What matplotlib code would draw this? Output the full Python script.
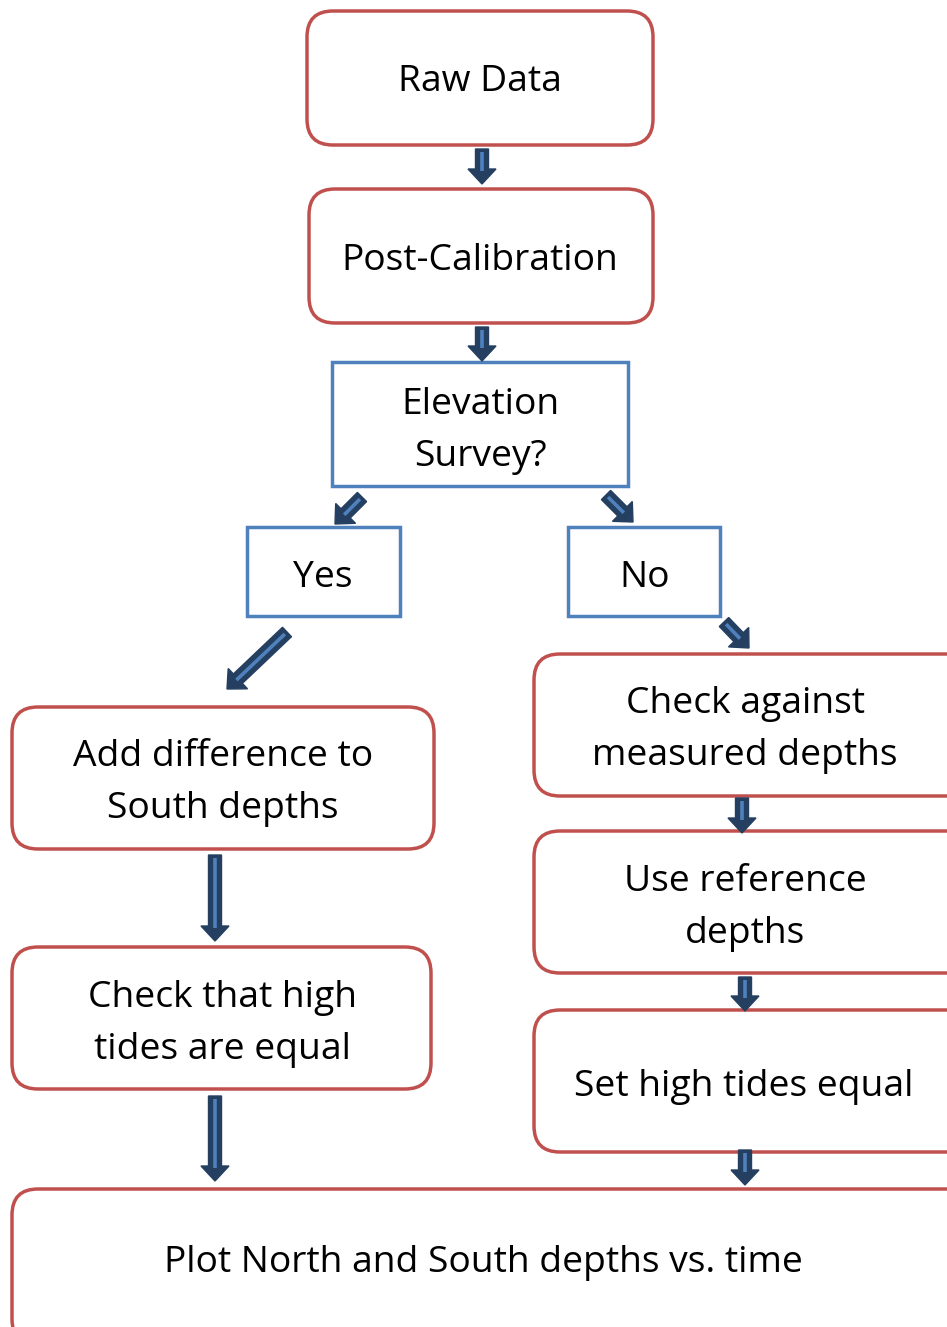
import matplotlib
matplotlib.use("Agg")
import matplotlib.pyplot as plt
from matplotlib.patches import FancyBboxPatch, Rectangle, Polygon
import numpy as np

plt.rcParams['font.family'] = ['Open Sans', 'DejaVu Sans']

# ---- content ----
labels = [
    "Raw Data",
    "Post-Calibration",
    "Elevation\nSurvey?",
    "Yes",
    "No",
    "Add difference to\nSouth depths",
    "Check that high\ntides are equal",
    "Check against\nmeasured depths",
    "Use reference\ndepths",
    "Set high tides equal",
    "Plot North and South depths vs. time",
]
kinds = ["round", "round", "rect", "rect", "rect", "round", "round", "round", "round", "round", "round"]

# ---- layout (pixel geometry) ----
boxes = [  # x0, y0, x1, y1
    (307, 11, 653, 145),
    (309, 189, 653, 323),
    (332, 362, 628, 486),
    (247, 527, 400, 616),
    (568, 527, 720, 616),
    (12, 707, 434, 849),
    (12, 947, 431, 1089),
    (534, 654, 975, 796),
    (534, 831, 975, 973),
    (534, 1010, 975, 1152),
    (12, 1189, 975, 1345),
]
text_pos = [
    (480, 82), (480, 261), (480, 431), (323, 578), (645, 578),
    (223, 783), (222, 1024), (745, 730), (745, 908), (744, 1087), (483, 1263),
]
arrows = [  # tail -> head
    ((482, 149), (482, 184)),
    ((482, 327), (482, 361)),
    ((362, 497), (335, 524)),
    ((606, 495), (633, 522)),
    ((287, 632), (227, 689)),
    ((724, 622), (749, 648)),
    ((215, 855), (215, 941)),
    ((215, 1096), (215, 1181)),
    ((742, 798), (742, 833)),
    ((745, 977), (745, 1011)),
    ((745, 1150), (745, 1185)),
]

RED = "#C0504D"
BLUE = "#4F81BD"
NAVY = "#243F60"
LIGHT = "#4F81BD"

W, H = 947, 1327
fig = plt.figure(figsize=(W / 100, H / 100), dpi=100)
ax = fig.add_axes([0, 0, 1, 1])
ax.set_xlim(0, W)
ax.set_ylim(H, 0)
ax.axis("off")

for (x0, y0, x1, y1), kind in zip(boxes, kinds):
    if kind == "round":
        p = FancyBboxPatch((x0, y0), x1 - x0, y1 - y0,
                           boxstyle="round,pad=0,rounding_size=26",
                           fc="white", ec=RED, lw=2.5)
    else:
        p = Rectangle((x0, y0), x1 - x0, y1 - y0, fc="white", ec=BLUE, lw=2.5)
    ax.add_patch(p)

for lab, (tx, ty) in zip(labels, text_pos):
    ax.text(tx, ty, lab, ha="center", va="center", fontsize=26.8,
            linespacing=1.57, color="black")


def block_arrow(tail, head, shaft=13, headw=28, headl=15):
    t = np.array(tail, float)
    h = np.array(head, float)
    d = h - t
    L = np.hypot(*d)
    u = d / L
    n = np.array([-u[1], u[0]])
    b = h - u * headl
    pts = [t + n * shaft / 2, b + n * shaft / 2, b + n * headw / 2, h,
           b - n * headw / 2, b - n * shaft / 2, t - n * shaft / 2]
    ax.add_patch(Polygon(pts, closed=True, fc=NAVY, ec=NAVY, lw=1))
    s = t + u * 3
    e = b + u * 2
    ax.plot([s[0], e[0]], [s[1], e[1]], color=LIGHT, lw=2.6, solid_capstyle="butt")


for tail, head in arrows:
    block_arrow(tail, head)

fig.savefig("out.png", dpi=100)
